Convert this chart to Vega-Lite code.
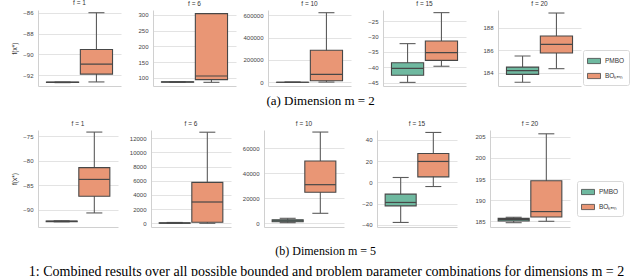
{
  "$schema": "https://vega.github.io/schema/vega-lite/v6.json",
  "padding": {"left": 11, "top": 0, "right": 5, "bottom": 0},
  "spacing": 12,
  "title": {"text": "1: Combined results over all possible bounded and problem parameter combinations for dimensions m = 2", "orient": "bottom", "anchor": "start", "font": "Liberation Serif", "fontSize": 14, "fontWeight": "normal", "color": "#000", "offset": 8, "dx": 17},
  "data": {"values": [
    {"m": 2, "f": 1, "method": "PMBO", "lo": -92.70, "q1": -92.69, "med": -92.67, "q3": -92.65, "hi": -92.64},
    {"m": 2, "f": 1, "method": "BO", "lo": -92.63, "q1": -91.88, "med": -90.92, "q3": -89.52, "hi": -86.0},
    {"m": 2, "f": 6, "method": "PMBO", "lo": 86.6, "q1": 87.0, "med": 87.4, "q3": 87.8, "hi": 88.2},
    {"m": 2, "f": 6, "method": "BO", "lo": 86.3, "q1": 94.7, "med": 106.3, "q3": 303.3, "hi": 303.5},
    {"m": 2, "f": 10, "method": "PMBO", "lo": 100, "q1": 300, "med": 600, "q3": 1000, "hi": 2000},
    {"m": 2, "f": 10, "method": "BO", "lo": 2000, "q1": 14330, "med": 71640, "q3": 286560, "hi": 623270},
    {"m": 2, "f": 15, "method": "PMBO", "lo": -44.8, "q1": -42.5, "med": -40.26, "q3": -38.45, "hi": -32.3},
    {"m": 2, "f": 15, "method": "BO", "lo": -39.6, "q1": -37.7, "med": -35.2, "q3": -31.45, "hi": -22.3},
    {"m": 2, "f": 20, "method": "PMBO", "lo": 183.15, "q1": 183.85, "med": 184.18, "q3": 184.5, "hi": 185.49},
    {"m": 2, "f": 20, "method": "BO", "lo": 184.36, "q1": 185.76, "med": 186.54, "q3": 187.28, "hi": 189.34},
    {"m": 5, "f": 1, "method": "PMBO", "lo": -92.4, "q1": -92.35, "med": -92.3, "q3": -92.25, "hi": -92.2},
    {"m": 5, "f": 1, "method": "BO", "lo": -90.6, "q1": -87.2, "med": -83.8, "q3": -81.4, "hi": -74.2},
    {"m": 5, "f": 6, "method": "PMBO", "lo": 0, "q1": 10, "med": 30, "q3": 60, "hi": 120},
    {"m": 5, "f": 6, "method": "BO", "lo": 0, "q1": 140, "med": 3000, "q3": 5770, "hi": 12830},
    {"m": 5, "f": 10, "method": "PMBO", "lo": 500, "q1": 1300, "med": 2000, "q3": 2900, "hi": 4000},
    {"m": 5, "f": 10, "method": "BO", "lo": 8000, "q1": 24800, "med": 30900, "q3": 49840, "hi": 73000},
    {"m": 5, "f": 15, "method": "PMBO", "lo": -37.6, "q1": -22.0, "med": -18.8, "q3": -11.0, "hi": 4.7},
    {"m": 5, "f": 15, "method": "BO", "lo": -3.8, "q1": 5.3, "med": 19.8, "q3": 27.3, "hi": 47.1},
    {"m": 5, "f": 20, "method": "PMBO", "lo": 184.67, "q1": 185.07, "med": 185.4, "q3": 185.7, "hi": 185.95},
    {"m": 5, "f": 20, "method": "BO", "lo": 185.0, "q1": 186.0, "med": 187.3, "q3": 194.6, "hi": 205.7}
  ]},
  "resolve": {"scale": {"color": "independent"}, "legend": {"color": "independent"}},
  "vconcat": [
    {
      "bounds": "flush",
      "spacing": 32,
      "title": {"text": "(a) Dimension m = 2", "orient": "bottom", "anchor": "middle", "font": "Liberation Serif", "fontSize": 13, "fontWeight": "normal", "color": "#000", "offset": 9},
      "resolve": {"scale": {"color": "independent", "y": "independent"}, "legend": {"color": "independent"}},
      "hconcat": [
        {"width": 83, "height": 76, "title": "f = 1",
         "transform": [{"filter": "datum.m == 2 && datum.f == 1"}],
         "encoding": {"x": {"field": "method", "type": "nominal", "scale": {"domain": ["PMBO", "BO"], "paddingInner": 0.05, "paddingOuter": 0.25}}},
         "layer": [
           {"mark": {"type": "rule", "color": "#5c5c5c", "strokeWidth": 1.1}, "encoding": {"y": {"field": "lo", "type": "quantitative", "title": "f(x*)", "scale": {"domain": [-93.02, -85.74], "nice": false, "zero": false}, "axis": {"values": [-92, -90, -88, -86], "tickCount": 20, "format": "d"}}, "y2": {"field": "hi", "title": "f(x*)"}}},
           {"mark": {"type": "tick", "size": 16, "thickness": 1.1, "color": "#5c5c5c", "opacity": 1}, "encoding": {"y": {"field": "lo", "type": "quantitative", "title": "f(x*)"}}},
           {"mark": {"type": "tick", "size": 16, "thickness": 1.1, "color": "#5c5c5c", "opacity": 1}, "encoding": {"y": {"field": "hi", "type": "quantitative", "title": "f(x*)"}}},
           {"mark": {"type": "bar", "stroke": "#474747", "strokeWidth": 1.1}, "encoding": {"y": {"field": "q1", "type": "quantitative", "title": "f(x*)"}, "y2": {"field": "q3", "title": "f(x*)"}, "color": {"field": "method", "type": "nominal", "scale": {"domain": ["PMBO", "BO"], "range": ["#6fb9a0", "#e99675"]}, "legend": null}}},
           {"mark": {"type": "tick", "size": 32, "thickness": 1.2, "color": "#474747", "opacity": 1}, "encoding": {"y": {"field": "med", "type": "quantitative", "title": "f(x*)"}}}
         ]},
        {"width": 83, "height": 76, "title": "f = 6",
         "transform": [{"filter": "datum.m == 2 && datum.f == 6"}],
         "encoding": {"x": {"field": "method", "type": "nominal", "scale": {"domain": ["PMBO", "BO"], "paddingInner": 0.05, "paddingOuter": 0.25}}},
         "layer": [
           {"mark": {"type": "rule", "color": "#5c5c5c", "strokeWidth": 1.1}, "encoding": {"y": {"field": "lo", "type": "quantitative", "title": null, "scale": {"domain": [74.7, 314.8], "nice": false, "zero": false}, "axis": {"values": [100, 150, 200, 250, 300], "tickCount": 20, "format": "d"}}, "y2": {"field": "hi", "title": null}}},
           {"mark": {"type": "tick", "size": 16, "thickness": 1.1, "color": "#5c5c5c", "opacity": 1}, "encoding": {"y": {"field": "lo", "type": "quantitative", "title": null}}},
           {"mark": {"type": "tick", "size": 16, "thickness": 1.1, "color": "#5c5c5c", "opacity": 1}, "encoding": {"y": {"field": "hi", "type": "quantitative", "title": null}}},
           {"mark": {"type": "bar", "stroke": "#474747", "strokeWidth": 1.1}, "encoding": {"y": {"field": "q1", "type": "quantitative", "title": null}, "y2": {"field": "q3", "title": null}, "color": {"field": "method", "type": "nominal", "scale": {"domain": ["PMBO", "BO"], "range": ["#6fb9a0", "#e99675"]}, "legend": null}}},
           {"mark": {"type": "tick", "size": 32, "thickness": 1.2, "color": "#474747", "opacity": 1}, "encoding": {"y": {"field": "med", "type": "quantitative", "title": null}}}
         ]},
        {"width": 83, "height": 76, "title": "f = 10",
         "transform": [{"filter": "datum.m == 2 && datum.f == 10"}],
         "encoding": {"x": {"field": "method", "type": "nominal", "scale": {"domain": ["PMBO", "BO"], "paddingInner": 0.05, "paddingOuter": 0.25}}},
         "layer": [
           {"mark": {"type": "rule", "color": "#5c5c5c", "strokeWidth": 1.1}, "encoding": {"y": {"field": "lo", "type": "quantitative", "title": null, "scale": {"domain": [-33133, 647460], "nice": false, "zero": false}, "axis": {"values": [0, 200000, 400000, 600000], "format": "d", "tickCount": 20}}, "y2": {"field": "hi", "title": null}}},
           {"mark": {"type": "tick", "size": 16, "thickness": 1.1, "color": "#5c5c5c", "opacity": 1}, "encoding": {"y": {"field": "lo", "type": "quantitative", "title": null}}},
           {"mark": {"type": "tick", "size": 16, "thickness": 1.1, "color": "#5c5c5c", "opacity": 1}, "encoding": {"y": {"field": "hi", "type": "quantitative", "title": null}}},
           {"mark": {"type": "bar", "stroke": "#474747", "strokeWidth": 1.1}, "encoding": {"y": {"field": "q1", "type": "quantitative", "title": null}, "y2": {"field": "q3", "title": null}, "color": {"field": "method", "type": "nominal", "scale": {"domain": ["PMBO", "BO"], "range": ["#6fb9a0", "#e99675"]}, "legend": null}}},
           {"mark": {"type": "tick", "size": 32, "thickness": 1.2, "color": "#474747", "opacity": 1}, "encoding": {"y": {"field": "med", "type": "quantitative", "title": null}}}
         ]},
        {"width": 83, "height": 76, "title": "f = 15",
         "transform": [{"filter": "datum.m == 2 && datum.f == 15"}],
         "encoding": {"x": {"field": "method", "type": "nominal", "scale": {"domain": ["PMBO", "BO"], "paddingInner": 0.05, "paddingOuter": 0.25}}},
         "layer": [
           {"mark": {"type": "rule", "color": "#5c5c5c", "strokeWidth": 1.1}, "encoding": {"y": {"field": "lo", "type": "quantitative", "title": null, "scale": {"domain": [-45.97, -21.45], "nice": false, "zero": false}, "axis": {"values": [-45, -40, -35, -30, -25], "tickCount": 20, "format": "d"}}, "y2": {"field": "hi", "title": null}}},
           {"mark": {"type": "tick", "size": 16, "thickness": 1.1, "color": "#5c5c5c", "opacity": 1}, "encoding": {"y": {"field": "lo", "type": "quantitative", "title": null}}},
           {"mark": {"type": "tick", "size": 16, "thickness": 1.1, "color": "#5c5c5c", "opacity": 1}, "encoding": {"y": {"field": "hi", "type": "quantitative", "title": null}}},
           {"mark": {"type": "bar", "stroke": "#474747", "strokeWidth": 1.1}, "encoding": {"y": {"field": "q1", "type": "quantitative", "title": null}, "y2": {"field": "q3", "title": null}, "color": {"field": "method", "type": "nominal", "scale": {"domain": ["PMBO", "BO"], "range": ["#6fb9a0", "#e99675"]}, "legend": null}}},
           {"mark": {"type": "tick", "size": 32, "thickness": 1.2, "color": "#474747", "opacity": 1}, "encoding": {"y": {"field": "med", "type": "quantitative", "title": null}}}
         ]},
        {"width": 83, "height": 76, "title": "f = 20",
         "transform": [{"filter": "datum.m == 2 && datum.f == 20"}],
         "encoding": {"x": {"field": "method", "type": "nominal", "scale": {"domain": ["PMBO", "BO"], "paddingInner": 0.05, "paddingOuter": 0.25}}},
         "layer": [
           {"mark": {"type": "rule", "color": "#5c5c5c", "strokeWidth": 1.1}, "encoding": {"y": {"field": "lo", "type": "quantitative", "title": null, "scale": {"domain": [182.81, 189.61], "nice": false, "zero": false}, "axis": {"values": [184, 186, 188], "tickCount": 20, "format": "d"}}, "y2": {"field": "hi", "title": null}}},
           {"mark": {"type": "tick", "size": 16, "thickness": 1.1, "color": "#5c5c5c", "opacity": 1}, "encoding": {"y": {"field": "lo", "type": "quantitative", "title": null}}},
           {"mark": {"type": "tick", "size": 16, "thickness": 1.1, "color": "#5c5c5c", "opacity": 1}, "encoding": {"y": {"field": "hi", "type": "quantitative", "title": null}}},
           {"mark": {"type": "bar", "stroke": "#474747", "strokeWidth": 1.1}, "encoding": {"y": {"field": "q1", "type": "quantitative", "title": null}, "y2": {"field": "q3", "title": null}, "color": {"field": "method", "type": "nominal", "scale": {"domain": ["PMBO", "BO"], "range": ["#6fb9a0", "#e99675"]}, "legend": {"orient": "none", "legendX": 85, "legendY": 40, "labelExpr": "datum.label == 'BO' ? 'BOₖₑᵣₙ' : datum.label"}}}},
           {"mark": {"type": "tick", "size": 32, "thickness": 1.2, "color": "#474747", "opacity": 1}, "encoding": {"y": {"field": "med", "type": "quantitative", "title": null}}}
         ]}
      ]
    },
    {
      "bounds": "flush",
      "spacing": 33,
      "title": {"text": "(b) Dimension m = 5", "orient": "bottom", "anchor": "middle", "font": "Liberation Serif", "fontSize": 12, "fontWeight": "normal", "color": "#000", "offset": 18, "dx": 8},
      "resolve": {"scale": {"color": "independent", "y": "independent"}, "legend": {"color": "independent"}},
      "hconcat": [
        {"width": 80, "height": 97, "title": "f = 1",
         "transform": [{"filter": "datum.m == 5 && datum.f == 1"}],
         "encoding": {"x": {"field": "method", "type": "nominal", "scale": {"domain": ["PMBO", "BO"], "paddingInner": 0.05, "paddingOuter": 0.25}}},
         "layer": [
           {"mark": {"type": "rule", "color": "#5c5c5c", "strokeWidth": 1.1}, "encoding": {"y": {"field": "lo", "type": "quantitative", "title": "f(x*)", "scale": {"domain": [-93.45, -73.78], "nice": false, "zero": false}, "axis": {"values": [-90, -85, -80, -75], "tickCount": 20, "format": "d"}}, "y2": {"field": "hi", "title": "f(x*)"}}},
           {"mark": {"type": "tick", "size": 16, "thickness": 1.1, "color": "#5c5c5c", "opacity": 1}, "encoding": {"y": {"field": "lo", "type": "quantitative", "title": "f(x*)"}}},
           {"mark": {"type": "tick", "size": 16, "thickness": 1.1, "color": "#5c5c5c", "opacity": 1}, "encoding": {"y": {"field": "hi", "type": "quantitative", "title": "f(x*)"}}},
           {"mark": {"type": "bar", "stroke": "#474747", "strokeWidth": 1.1}, "encoding": {"y": {"field": "q1", "type": "quantitative", "title": "f(x*)"}, "y2": {"field": "q3", "title": "f(x*)"}, "color": {"field": "method", "type": "nominal", "scale": {"domain": ["PMBO", "BO"], "range": ["#6fb9a0", "#e99675"]}, "legend": null}}},
           {"mark": {"type": "tick", "size": 31, "thickness": 1.2, "color": "#474747", "opacity": 1}, "encoding": {"y": {"field": "med", "type": "quantitative", "title": "f(x*)"}}}
         ]},
        {"width": 80, "height": 97, "title": "f = 6",
         "transform": [{"filter": "datum.m == 5 && datum.f == 6"}],
         "encoding": {"x": {"field": "method", "type": "nominal", "scale": {"domain": ["PMBO", "BO"], "paddingInner": 0.05, "paddingOuter": 0.25}}},
         "layer": [
           {"mark": {"type": "rule", "color": "#5c5c5c", "strokeWidth": 1.1}, "encoding": {"y": {"field": "lo", "type": "quantitative", "title": null, "scale": {"domain": [-521, 13141], "nice": false, "zero": false}, "axis": {"values": [0, 2000, 4000, 6000, 8000, 10000, 12000], "format": "d", "tickCount": 20}}, "y2": {"field": "hi", "title": null}}},
           {"mark": {"type": "tick", "size": 16, "thickness": 1.1, "color": "#5c5c5c", "opacity": 1}, "encoding": {"y": {"field": "lo", "type": "quantitative", "title": null}}},
           {"mark": {"type": "tick", "size": 16, "thickness": 1.1, "color": "#5c5c5c", "opacity": 1}, "encoding": {"y": {"field": "hi", "type": "quantitative", "title": null}}},
           {"mark": {"type": "bar", "stroke": "#474747", "strokeWidth": 1.1}, "encoding": {"y": {"field": "q1", "type": "quantitative", "title": null}, "y2": {"field": "q3", "title": null}, "color": {"field": "method", "type": "nominal", "scale": {"domain": ["PMBO", "BO"], "range": ["#6fb9a0", "#e99675"]}, "legend": null}}},
           {"mark": {"type": "tick", "size": 31, "thickness": 1.2, "color": "#474747", "opacity": 1}, "encoding": {"y": {"field": "med", "type": "quantitative", "title": null}}}
         ]},
        {"width": 80, "height": 97, "title": "f = 10",
         "transform": [{"filter": "datum.m == 5 && datum.f == 10"}],
         "encoding": {"x": {"field": "method", "type": "nominal", "scale": {"domain": ["PMBO", "BO"], "paddingInner": 0.05, "paddingOuter": 0.25}}},
         "layer": [
           {"mark": {"type": "rule", "color": "#5c5c5c", "strokeWidth": 1.1}, "encoding": {"y": {"field": "lo", "type": "quantitative", "title": null, "scale": {"domain": [-2960, 74640], "nice": false, "zero": false}, "axis": {"values": [0, 20000, 40000, 60000], "format": "d", "tickCount": 20}}, "y2": {"field": "hi", "title": null}}},
           {"mark": {"type": "tick", "size": 16, "thickness": 1.1, "color": "#5c5c5c", "opacity": 1}, "encoding": {"y": {"field": "lo", "type": "quantitative", "title": null}}},
           {"mark": {"type": "tick", "size": 16, "thickness": 1.1, "color": "#5c5c5c", "opacity": 1}, "encoding": {"y": {"field": "hi", "type": "quantitative", "title": null}}},
           {"mark": {"type": "bar", "stroke": "#474747", "strokeWidth": 1.1}, "encoding": {"y": {"field": "q1", "type": "quantitative", "title": null}, "y2": {"field": "q3", "title": null}, "color": {"field": "method", "type": "nominal", "scale": {"domain": ["PMBO", "BO"], "range": ["#6fb9a0", "#e99675"]}, "legend": null}}},
           {"mark": {"type": "tick", "size": 31, "thickness": 1.2, "color": "#474747", "opacity": 1}, "encoding": {"y": {"field": "med", "type": "quantitative", "title": null}}}
         ]},
        {"width": 80, "height": 97, "title": "f = 15",
         "transform": [{"filter": "datum.m == 5 && datum.f == 15"}],
         "encoding": {"x": {"field": "method", "type": "nominal", "scale": {"domain": ["PMBO", "BO"], "paddingInner": 0.05, "paddingOuter": 0.25}}},
         "layer": [
           {"mark": {"type": "rule", "color": "#5c5c5c", "strokeWidth": 1.1}, "encoding": {"y": {"field": "lo", "type": "quantitative", "title": null, "scale": {"domain": [-41.9, 49.4], "nice": false, "zero": false}, "axis": {"values": [-40, -20, 0, 20, 40], "tickCount": 20, "format": "d"}}, "y2": {"field": "hi", "title": null}}},
           {"mark": {"type": "tick", "size": 16, "thickness": 1.1, "color": "#5c5c5c", "opacity": 1}, "encoding": {"y": {"field": "lo", "type": "quantitative", "title": null}}},
           {"mark": {"type": "tick", "size": 16, "thickness": 1.1, "color": "#5c5c5c", "opacity": 1}, "encoding": {"y": {"field": "hi", "type": "quantitative", "title": null}}},
           {"mark": {"type": "bar", "stroke": "#474747", "strokeWidth": 1.1}, "encoding": {"y": {"field": "q1", "type": "quantitative", "title": null}, "y2": {"field": "q3", "title": null}, "color": {"field": "method", "type": "nominal", "scale": {"domain": ["PMBO", "BO"], "range": ["#6fb9a0", "#e99675"]}, "legend": null}}},
           {"mark": {"type": "tick", "size": 31, "thickness": 1.2, "color": "#474747", "opacity": 1}, "encoding": {"y": {"field": "med", "type": "quantitative", "title": null}}}
         ]},
        {"width": 80, "height": 97, "title": "f = 20",
         "transform": [{"filter": "datum.m == 5 && datum.f == 20"}],
         "encoding": {"x": {"field": "method", "type": "nominal", "scale": {"domain": ["PMBO", "BO"], "paddingInner": 0.05, "paddingOuter": 0.25}}},
         "layer": [
           {"mark": {"type": "rule", "color": "#5c5c5c", "strokeWidth": 1.1}, "encoding": {"y": {"field": "lo", "type": "quantitative", "title": null, "scale": {"domain": [183.65, 206.6], "nice": false, "zero": false}, "axis": {"values": [185, 190, 195, 200, 205], "tickCount": 20, "format": "d"}}, "y2": {"field": "hi", "title": null}}},
           {"mark": {"type": "tick", "size": 16, "thickness": 1.1, "color": "#5c5c5c", "opacity": 1}, "encoding": {"y": {"field": "lo", "type": "quantitative", "title": null}}},
           {"mark": {"type": "tick", "size": 16, "thickness": 1.1, "color": "#5c5c5c", "opacity": 1}, "encoding": {"y": {"field": "hi", "type": "quantitative", "title": null}}},
           {"mark": {"type": "bar", "stroke": "#474747", "strokeWidth": 1.1}, "encoding": {"y": {"field": "q1", "type": "quantitative", "title": null}, "y2": {"field": "q3", "title": null}, "color": {"field": "method", "type": "nominal", "scale": {"domain": ["PMBO", "BO"], "range": ["#6fb9a0", "#e99675"]}, "legend": {"orient": "none", "legendX": 87, "legendY": 51, "labelExpr": "datum.label == 'BO' ? 'BOₖₑᵣₙ' : datum.label"}}}},
           {"mark": {"type": "tick", "size": 31, "thickness": 1.2, "color": "#474747", "opacity": 1}, "encoding": {"y": {"field": "med", "type": "quantitative", "title": null}}}
         ]}
      ]
    }
  ],
  "config": {
    "view": {"stroke": null},
    "font": "Liberation Sans",
    "title": {"font": "Liberation Sans", "fontSize": 6.5, "fontWeight": "normal", "color": "#333", "offset": 3},
    "axis": {"labelFont": "Liberation Sans", "labelFontSize": 6, "labelColor": "#444", "labelOverlap": false, "labelBound": false, "labelFlush": false, "ticks": false, "domainColor": "#d0d0d0", "domainWidth": 1, "gridColor": "#e3e3e3", "gridWidth": 1, "labelPadding": 5, "titleFont": "Liberation Sans", "titleFontSize": 6.5, "titleFontWeight": "normal", "titleColor": "#333", "titlePadding": 5},
    "axisX": {"labels": false, "ticks": false, "title": null, "grid": false, "domain": true},
    "axisY": {"grid": true, "domain": true},
    "legend": {"title": null, "labelFont": "Liberation Sans", "labelFontSize": 6.5, "labelColor": "#333", "symbolType": "M-1,-0.4H1V0.4H-1Z", "symbolSize": 169, "symbolStrokeColor": "#474747", "symbolStrokeWidth": 0.8, "strokeColor": "#d8d8d8", "fillColor": "#ffffff", "cornerRadius": 2, "padding": 4, "rowPadding": 3, "labelOffset": 4}
  }
}
